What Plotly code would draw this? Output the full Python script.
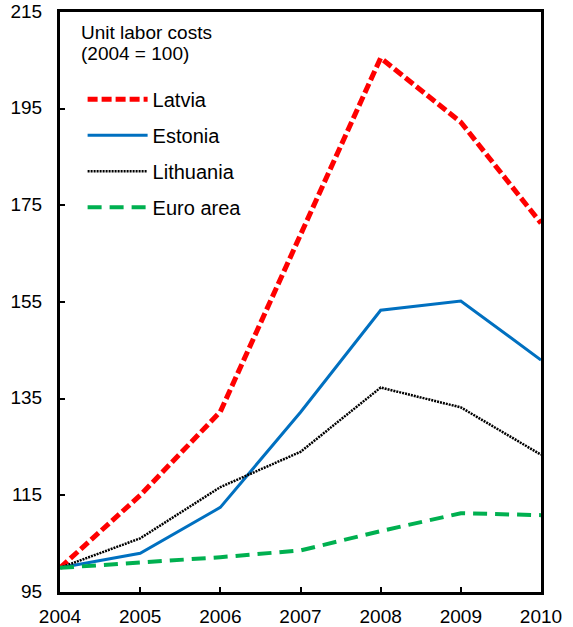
import plotly.graph_objects as go

years = [2004, 2005, 2006, 2007, 2008, 2009, 2010]
latvia = [100, 115.0, 132.3, 169.2, 205.5, 192.2, 171.3]
estonia = [100, 103.0, 112.5, 132.2, 153.3, 155.2, 143.0]
lithuania = [100, 106.1, 116.7, 124.0, 137.3, 133.2, 123.4]
euro_area = [100, 101.1, 102.2, 103.6, 107.6, 111.3, 110.9]

y_ticks = [95, 115, 135, 155, 175, 195, 215]

FONT = "Liberation Sans, Arial, sans-serif"

fig = go.Figure()
fig.add_trace(go.Scatter(x=years, y=latvia, name="Latvia", mode="lines", legendgroup="a",
                         line=dict(color="#FF0000", width=5, dash="10px,4px")))
fig.add_trace(go.Scatter(x=years, y=estonia, name="Estonia", mode="lines", legendgroup="b",
                         line=dict(color="#0070C0", width=3)))
fig.add_trace(go.Scatter(x=years, y=lithuania, name="Lithuania", mode="lines", legendgroup="c",
                         line=dict(color="#000000", width=2.5, dash="2px,1px")))
fig.add_trace(go.Scatter(x=years, y=euro_area, name="Euro area", mode="lines", legendgroup="d",
                         line=dict(color="#00B050", width=4, dash="14px,8px")))

fig.update_layout(
    template="none",
    width=573, height=627,
    margin=dict(l=60, r=32, t=12, b=35, autoexpand=False),
    paper_bgcolor="white", plot_bgcolor="white",
    font=dict(family=FONT, size=19, color="black"),
    showlegend=True,
    legend=dict(x=0.047, y=0.883, xanchor="left", yanchor="top",
                bgcolor="rgba(0,0,0,0)", font=dict(size=20),
                tracegroupgap=7, itemwidth=60),
    annotations=[
        dict(text="Unit labor costs", x=0.040, y=0.9655, xref="paper", yref="paper",
             xanchor="left", yanchor="middle", showarrow=False, font=dict(size=19)),
        dict(text="(2004 = 100)", x=0.040, y=0.929, xref="paper", yref="paper",
             xanchor="left", yanchor="middle", showarrow=False, font=dict(size=19)),
    ],
)
fig.update_xaxes(range=[2004, 2010], tickmode="array", tickvals=years, automargin=False,
                 ticks="inside", ticklen=5, tickwidth=2, tickcolor="black",
                 ticklabelstandoff=5, ticklabeloverflow="allow",
                 showline=True, linewidth=3, linecolor="black", mirror=True,
                 showgrid=False, zeroline=False)
fig.update_yaxes(range=[95, 215], tickmode="array", tickvals=y_ticks, automargin=False,
                 ticks="inside", ticklen=5, tickwidth=2, tickcolor="black",
                 ticklabelstandoff=11, ticklabelshift=-1, ticklabeloverflow="allow",
                 showline=True, linewidth=3, linecolor="black", mirror=True,
                 showgrid=False, zeroline=False)

fig.write_html("out.html", config={"displayModeBar": False},
               post_script="document.body.style.margin='0';")
